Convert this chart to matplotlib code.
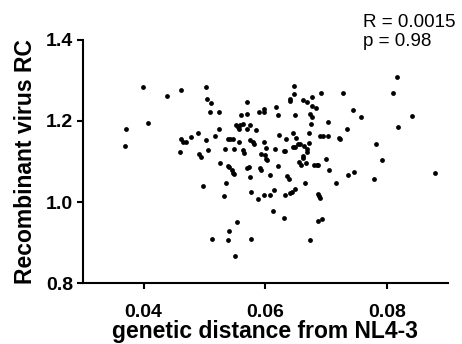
import matplotlib
matplotlib.use("Agg")
import matplotlib.pyplot as plt

plt.rcParams['font.family'] = ['Liberation Sans', 'DejaVu Sans']

# genetic distance from NL4-3 vs recombinant virus RC
dist = [0.0370, 0.0371, 0.0399, 0.0408, 0.0439, 0.0462, 0.0459, 0.0461, 0.0464, 0.0470,
        0.0478, 0.0489, 0.0491, 0.0494, 0.0498, 0.0503, 0.0504, 0.0510, 0.0509, 0.0503,
        0.0505, 0.0513, 0.0518, 0.0524, 0.0524, 0.0525, 0.0532, 0.0533, 0.0536, 0.0539,
        0.0542, 0.0539, 0.0540, 0.0540, 0.0539, 0.0546, 0.0545, 0.0547, 0.0549, 0.0548,
        0.0550, 0.0554, 0.0551, 0.0555, 0.0556, 0.0558, 0.0556, 0.0560, 0.0563, 0.0565,
        0.0564, 0.0570, 0.0570, 0.0569, 0.0569, 0.0573, 0.0574, 0.0575, 0.0575, 0.0576,
        0.0577, 0.0580, 0.0582, 0.0584, 0.0588, 0.0589, 0.0591, 0.0592, 0.0592, 0.0597,
        0.0598, 0.0598, 0.0598, 0.0601, 0.0600, 0.0601, 0.0603, 0.0607, 0.0607, 0.0613,
        0.0614, 0.0616, 0.0617, 0.0620, 0.0621, 0.0622, 0.0631, 0.0631, 0.0632, 0.0632,
        0.0634, 0.0635, 0.0638, 0.0641, 0.0640, 0.0641, 0.0644, 0.0646, 0.0647, 0.0647,
        0.0648, 0.0646, 0.0649, 0.0649, 0.0650, 0.0653, 0.0655, 0.0657, 0.0659, 0.0662,
        0.0661, 0.0662, 0.0663, 0.0665, 0.0666, 0.0668, 0.0668, 0.0669, 0.0671, 0.0671,
        0.0674, 0.0674, 0.0675, 0.0676, 0.0676, 0.0677, 0.0679, 0.0683, 0.0684, 0.0686,
        0.0687, 0.0688, 0.0690, 0.0687, 0.0690, 0.0692, 0.0693, 0.0694, 0.0700, 0.0702,
        0.0702, 0.0705, 0.0716, 0.0721, 0.0723, 0.0728, 0.0734, 0.0736, 0.0744, 0.0746,
        0.0757, 0.0779, 0.0781, 0.0791, 0.0810, 0.0816, 0.0818, 0.0841, 0.0878]
rc = [1.139, 1.181, 1.285, 1.195, 1.261, 1.276, 1.123, 1.155, 1.147, 1.149,
      1.161, 1.170, 1.118, 1.110, 1.040, 1.283, 1.254, 1.244, 1.222, 1.153,
      1.128, 0.909, 1.162, 1.222, 1.180, 1.096, 1.016, 1.132, 1.047, 1.156,
      1.156, 1.090, 1.086, 0.928, 0.907, 1.155, 1.079, 1.072, 1.068, 1.131,
      0.868, 0.951, 1.190, 1.186, 1.180, 1.191, 1.148, 1.215, 1.193, 1.120,
      1.129, 1.248, 1.217, 1.179, 1.085, 1.086, 1.190, 1.154, 1.063, 1.025,
      0.910, 1.149, 1.143, 1.177, 1.007, 1.222, 1.083, 1.119, 1.080, 1.018,
      1.223, 1.229, 1.147, 1.134, 1.117, 1.105, 1.104, 1.067, 1.017, 0.977,
      1.029, 1.132, 1.234, 1.215, 1.089, 1.165, 1.127, 0.960, 1.017, 1.127,
      1.156, 1.065, 1.056, 1.023, 1.249, 1.254, 1.024, 1.170, 1.286, 1.266,
      1.032, 1.136, 1.137, 1.214, 1.159, 1.142, 1.098, 1.143, 1.091, 1.252,
      1.113, 1.109, 1.138, 1.047, 1.097, 1.247, 1.124, 1.130, 1.171, 1.146,
      0.907, 1.216, 1.193, 1.260, 1.237, 1.211, 1.092, 1.233, 1.092, 0.952,
      1.021, 1.015, 1.009, 1.092, 1.162, 1.270, 0.957, 1.164, 1.105, 1.197,
      1.162, 1.080, 1.048, 1.159, 1.155, 1.270, 1.179, 1.067, 1.226, 1.073,
      1.209, 1.056, 1.143, 1.104, 1.269, 1.308, 1.184, 1.212, 1.072]

x_ticks = [0.04, 0.06, 0.08]
y_ticks = [0.8, 1.0, 1.2, 1.4]
stats_text = "R = 0.0015\np = 0.98"

fig = plt.figure(figsize=(4.62, 3.44), dpi=100)
ax = fig.add_axes([0.179, 0.177, 0.791, 0.707])

ax.scatter(dist, rc, s=12, color='black', linewidths=0, clip_on=False)

ax.set_xlim(0.03, 0.09)
ax.set_ylim(0.8, 1.4)
ax.set_xticks(x_ticks)
ax.set_yticks(y_ticks)
ax.set_xticklabels(['0.04', '0.06', '0.08'])
ax.set_yticklabels(['0.8', '1.0', '1.2', '1.4'])

for side in ['top', 'right']:
    ax.spines[side].set_visible(False)
for side in ['left', 'bottom']:
    ax.spines[side].set_linewidth(1.5)
ax.tick_params(width=1.5, length=4, labelsize=14)
ax.tick_params(axis='x', pad=11)
ax.tick_params(axis='y', pad=3)
for lab in ax.get_xticklabels() + ax.get_yticklabels():
    lab.set_fontweight('bold')

ax.set_xlabel("genetic distance from NL4-3", fontsize=16.5, fontweight='bold', labelpad=-1)
ax.set_ylabel("Recombinant virus RC", fontsize=16.5, fontweight='bold', labelpad=6)

fig.text(363 / 462, 1 - 14 / 344, stats_text, fontsize=13.5, va='top', ha='left',
         linespacing=1.15)

fig.savefig("out.png", dpi=100)
